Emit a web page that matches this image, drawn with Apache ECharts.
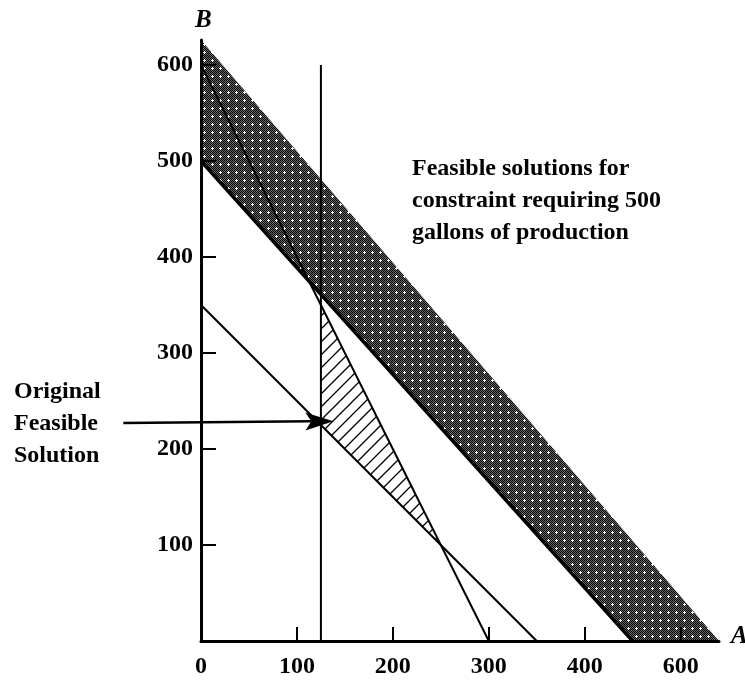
<!DOCTYPE html>
<html>
<head>
<meta charset="utf-8">
<script src="https://cdn.jsdelivr.net/npm/echarts@6/dist/echarts.min.js"></script>
<style>
html, body { margin: 0; padding: 0; background: #fff; }
#main { width: 745px; height: 683px; }
</style>
</head>
<body>
<div id="main"></div>
<script>
// tick values and the labels printed under them (the last one reads 600 in the original)
var xTicks = [0, 100, 200, 300, 400, 500];
var xTickLabels = ['0', '100', '200', '300', '400', '600'];
var yTicks = [100, 200, 300, 400, 500, 600];

// shaded band: feasible for the 500 gallon constraint
var bandA = [0, 0, 540, 450];
var bandB = [500, 626, 0, 0];
var bandEdge = [[0, 500], [450, 0]];

// constraint lines
var line2A = [[0, 600], [300, 0]];
var lineAB = [[0, 350], [350, 0]];
var lineVert = [[125, 0], [125, 600]];

// original feasible region (hatched)
var hatchA = [125, 125, 250];
var hatchB = [225, 350, 100];

// arrow from the "Original Feasible Solution" note
var arrowA = [-81, 138];
var arrowB = [227, 229];

var serif = '"Liberation Serif", "Times New Roman", serif';

function dotPattern() {
    var c = document.createElement('canvas');
    c.width = 8; c.height = 8;
    var ctx = c.getContext('2d');
    ctx.fillStyle = '#6a6a6a';
    ctx.fillRect(0, 0, 8, 8);
    ctx.fillStyle = '#000';
    for (var y = 0; y < 8; y++) {
        for (var x = 0; x < 8; x++) {
            if ((x + y) % 2 == 0) ctx.fillRect(x, y, 1, 1);
        }
    }
    ctx.fillStyle = '#fff';
    ctx.fillRect(3, 4, 3, 1);
    ctx.fillRect(4, 3, 1, 3);
    return c;
}

function hatchPattern() {
    var s = 13;
    var c = document.createElement('canvas');
    c.width = s; c.height = s;
    var ctx = c.getContext('2d');
    ctx.strokeStyle = '#000';
    ctx.lineWidth = 1.3;
    ctx.beginPath();
    ctx.moveTo(0, s); ctx.lineTo(s, 0);
    ctx.moveTo(-2, 2); ctx.lineTo(2, -2);
    ctx.moveTo(s - 2, s + 2); ctx.lineTo(s + 2, s - 2);
    ctx.stroke();
    return c;
}

var dots = dotPattern();
var hatch = hatchPattern();

function polyItem(xs, ys, fill) {
    return function (params, api) {
        var pts = xs.map(function (a, i) { return api.coord([a, ys[i]]); });
        return { type: 'polygon', shape: { points: pts }, style: { fill: { image: fill, repeat: 'repeat' } } };
    };
}

function renderArrow(params, api) {
    var p0 = api.coord([arrowA[0], arrowB[0]]);
    var p1 = api.coord([arrowA[1], arrowB[1]]);
    var dx = p1[0] - p0[0], dy = p1[1] - p0[1];
    var len = Math.sqrt(dx * dx + dy * dy);
    var ux = dx / len, uy = dy / len, nx = -uy, ny = ux;
    var L = 28, W = 9, N = 6;
    var bx = p1[0] - ux * L, by = p1[1] - uy * L;
    return {
        type: 'group',
        children: [
            { type: 'line', shape: { x1: p0[0], y1: p0[1], x2: bx + ux * N, y2: by + uy * N }, style: { stroke: '#000', lineWidth: 2.5 } },
            { type: 'polygon', shape: { points: [p1, [bx + nx * W, by + ny * W], [bx + ux * N, by + uy * N], [bx - nx * W, by - ny * W]] }, style: { fill: '#000' } }
        ]
    };
}

function lineSeries(data, width) {
    return {
        type: 'line',
        data: data,
        showSymbol: false,
        symbol: 'none',
        silent: true,
        z: 3,
        lineStyle: { color: '#000', width: width }
    };
}

var chart = echarts.init(document.getElementById('main'), null, { renderer: 'canvas' });
var option = {
    animation: false,
    backgroundColor: '#fff',
    grid: { left: 201, top: 40, right: 26, bottom: 42 },
    xAxis: {
        type: 'value',
        min: 0,
        max: 540,
        z: 10,
        splitLine: { show: false },
        axisLine: { lineStyle: { color: '#000', width: 3 } },
        axisTick: { inside: true, length: 14, lineStyle: { color: '#000', width: 2 }, customValues: xTicks.slice(1) },
        axisLabel: {
            customValues: xTicks,
            margin: 14,
            color: '#000',
            fontSize: 24,
            fontWeight: 'bold',
            fontFamily: serif,
            formatter: function (v) {
                var i = xTicks.indexOf(v);
                return i < 0 ? '' : xTickLabels[i];
            }
        }
    },
    yAxis: {
        type: 'value',
        min: 0,
        max: 626,
        z: 10,
        splitLine: { show: false },
        axisLine: { lineStyle: { color: '#000', width: 3 } },
        axisTick: { inside: true, length: 15, lineStyle: { color: '#000', width: 2 }, customValues: yTicks },
        axisLabel: {
            customValues: yTicks,
            margin: 8,
            color: '#000',
            fontSize: 24,
            fontWeight: 'bold',
            fontFamily: serif
        }
    },
    graphic: [
        { type: 'text', left: 195, top: 8, style: { text: 'B', fill: '#000', font: 'italic bold 25px ' + serif } },
        { type: 'text', left: 731, top: 624, style: { text: 'A', fill: '#000', font: 'italic bold 25px ' + serif } },
        { type: 'text', left: 412, top: 153, style: { text: 'Feasible solutions for\nconstraint requiring 500\ngallons of production', fill: '#000', font: 'bold 24px ' + serif, lineHeight: 32 } },
        { type: 'text', left: 14, top: 376, style: { text: 'Original\nFeasible\nSolution', fill: '#000', font: 'bold 24px ' + serif, lineHeight: 32 } }
    ],
    series: [
        { type: 'custom', data: [0], silent: true, z: 1, renderItem: polyItem(bandA, bandB, dots) },
        { type: 'custom', data: [0], silent: true, z: 1, renderItem: polyItem(hatchA, hatchB, hatch) },
        lineSeries(bandEdge, 3.5),
        lineSeries(line2A, 2),
        lineSeries(lineAB, 2),
        lineSeries(lineVert, 2),
        { type: 'custom', data: [0], silent: true, z: 4, clip: false, renderItem: renderArrow }
    ]
};
chart.setOption(option);
</script>
</body>
</html>
